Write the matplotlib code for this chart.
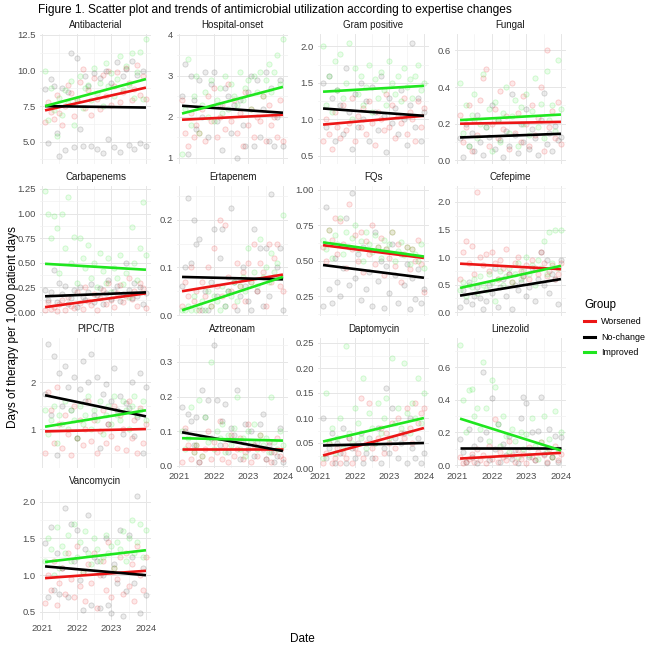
import numpy as np
import matplotlib
matplotlib.use("Agg")
import matplotlib.pyplot as plt
from matplotlib.lines import Line2D
from matplotlib.colors import to_rgba

plt.rcParams['font.family'] = ['Liberation Sans', 'DejaVu Sans']

# monthly observations, 2021-01 .. 2023-12 (plotted at month end)
months = 2021 + np.arange(1, 37) / 12

groups = ['Worsened', 'No-change', 'Improved']
group_colors = ['#ec1616', '#000000', '#1fe61f']

panels = ['Antibacterial', 'Hospital-onset', 'Gram positive', 'Fungal',
          'Carbapenems', 'Ertapenem', 'FQs', 'Cefepime',
          'PIPC/TB', 'Aztreonam', 'Daptomycin', 'Linezolid',
          'Vancomycin']

# scatter values per panel: [Worsened, No-change, Improved]
antibacterial = [
    [6.4, 7.8, 7.1, 6.6, 8.3, 7.0, 6.2, 7.5, 9.0, 8.4, 6.8, 7.9, 9.2, 10.1, 7.4, 8.6, 6.9, 9.5,
     8.0, 7.3, 9.7, 8.2, 10.0, 7.6, 8.9, 9.9, 7.8, 8.5, 10.2, 9.1, 7.9, 8.7, 10.4, 8.3, 9.6, 8.0],
    [8.7, 4.9, 9.4, 8.9, 5.6, 4.0, 8.8, 4.4, 8.5, 11.2, 4.6, 10.9, 5.9, 4.7, 9.6, 8.9, 4.7, 9.8,
     4.5, 9.5, 4.2, 10.0, 5.2, 9.1, 4.6, 10.6, 4.3, 9.6, 10.1, 4.8, 10.7, 4.5, 9.7, 4.9, 10.0, 4.7],
    [10.0, 6.5, 8.8, 7.2, 5.4, 8.1, 6.9, 8.6, 7.7, 9.3, 6.2, 8.0, 9.6, 7.4, 8.8, 9.0, 7.9, 10.2,
     8.4, 9.1, 7.5, 10.5, 8.9, 9.8, 8.2, 9.4, 11.0, 8.6, 10.3, 9.0, 11.2, 8.1, 9.9, 11.3, 8.0, 12.2],
]
hospital_onset = [
    [2.4, 1.6, 1.3, 2.1, 1.5, 1.8, 1.6, 2.2, 1.4, 2.5, 1.9, 2.7, 1.5, 2.0, 2.3, 1.7, 2.8, 1.9,
     2.4, 1.6, 2.1, 1.3, 2.6, 1.8, 2.2, 1.5, 2.0, 1.9, 2.5, 1.4, 2.3, 1.8, 2.0, 1.5, 2.4, 1.4],
    [2.5, 3.3, 1.1, 3.0, 2.4, 1.7, 2.9, 2.0, 3.1, 1.5, 2.8, 3.1, 1.9, 2.3, 1.2, 2.7, 2.5, 1.6,
     2.3, 1.0, 2.4, 1.8, 1.3, 2.6, 3.0, 1.3, 2.9, 1.5, 2.2, 3.1, 1.4, 2.7, 1.3, 2.0, 2.9, 1.3],
    [1.1, 2.2, 3.4, 1.8, 2.5, 3.0, 1.6, 2.3, 2.6, 2.0, 2.9, 1.9, 2.4, 2.7, 2.1, 3.0, 2.2, 2.8,
     2.5, 2.3, 3.1, 2.4, 2.7, 2.9, 2.2, 3.0, 2.6, 3.1, 2.5, 2.9, 3.3, 2.6, 3.1, 3.5, 2.8, 3.9],
]
gram_positive = [
    [0.7, 1.0, 0.8, 0.6, 1.1, 0.9, 0.75, 1.2, 0.85, 0.95, 1.3, 0.7, 1.05, 0.9, 1.15, 0.8, 1.25, 0.95,
     0.65, 1.1, 1.0, 0.85, 1.35, 0.9, 1.2, 0.75, 1.05, 0.95, 1.3, 0.8, 1.1, 1.0, 0.7, 1.25, 0.9, 1.15],
    [1.5, 0.9, 1.6, 1.3, 0.7, 1.4, 1.2, 0.8, 1.7, 1.1, 0.6, 1.35, 0.9, 1.5, 1.0, 1.25, 0.7, 1.45,
     1.1, 0.85, 1.6, 1.05, 0.55, 1.3, 0.95, 1.15, 0.8, 1.4, 1.0, 0.65, 1.2, 2.05, 0.9, 1.3, 0.7, 1.1],
    [2.0, 1.2, 1.6, 1.1, 1.8, 1.4, 1.9, 1.3, 1.5, 2.05, 1.0, 1.7, 1.35, 1.6, 1.2, 1.45, 1.75, 1.1,
     1.55, 1.3, 1.65, 1.4, 1.2, 1.8, 1.5, 1.35, 1.6, 1.25, 1.7, 1.45, 1.55, 1.3, 1.6, 1.75, 1.4, 1.5],
]
fungal = [
    [0.25, 0.1, 0.18, 0.3, 0.05, 0.22, 0.14, 0.33, 0.45, 0.5, 0.08, 0.2, 0.28, 0.12, 0.38, 0.17, 0.24, 0.06,
     0.42, 0.15, 0.26, 0.1, 0.35, 0.2, 0.08, 0.3, 0.14, 0.23, 0.4, 0.05, 0.6, 0.18, 0.27, 0.12, 0.32, 0.09],
    [0.12, 0.02, 0.2, 0.08, 0.15, 0.05, 0.25, 0.1, 0.03, 0.18, 0.13, 0.3, 0.06, 0.22, 0.11, 0.02, 0.16, 0.08,
     0.36, 0.14, 0.04, 0.2, 0.1, 0.28, 0.06, 0.17, 0.12, 0.03, 0.22, 0.37, 0.09, 0.15, 0.05, 0.19, 0.11, 0.13],
    [0.42, 0.15, 0.3, 0.08, 0.25, 0.36, 0.12, 0.2, 0.47, 0.18, 0.28, 0.05, 0.32, 0.22, 0.1, 0.26, 0.4, 0.15,
     0.24, 0.33, 0.08, 0.29, 0.2, 0.36, 0.14, 0.27, 0.45, 0.18, 0.31, 0.12, 0.49, 0.22, 0.3, 0.16, 0.55, 0.28],
]
carbapenems = [
    [0.02, 0.1, 0.03, 0.05, 0.01, 0.08, 0.12, 0.02, 0.15, 0.06, 0.04, 0.2, 0.09, 0.03, 0.25, 0.11, 0.07, 0.18,
     0.02, 0.14, 0.22, 0.08, 0.3, 0.12, 0.05, 0.19, 0.27, 0.1, 0.16, 0.35, 0.13, 0.21, 0.06, 0.29, 0.24, 0.04],
    [0.22, 0.12, 0.2, 0.43, 0.1, 0.3, 0.18, 0.26, 0.08, 0.14, 0.22, 0.05, 0.25, 0.15, 0.12, 0.2, 0.28, 0.1,
     0.17, 0.24, 0.08, 0.19, 0.33, 0.13, 0.21, 0.26, 0.11, 0.18, 0.5, 0.22, 0.14, 0.3, 0.16, 0.25, 0.08, 0.19],
    [1.23, 1.0, 0.75, 0.98, 0.85, 0.4, 1.0, 0.65, 1.17, 0.5, 0.76, 0.3, 0.75, 0.55, 0.45, 0.68, 0.35, 0.5,
     0.25, 0.6, 0.42, 0.3, 0.55, 0.2, 0.45, 0.35, 0.58, 0.28, 0.4, 0.15, 0.86, 0.5, 0.33, 0.65, 1.12, 0.58],
]
ertapenem = [
    [0.02, 0.07, 0.04, 0.1, 0.03, 0.05, 0.01, 0.07, 0.04, 0.1, 0.02, 0.14, 0.06, 0.2, 0.04, 0.19, 0.08, 0.05,
     0.02, 0.11, 0.06, 0.09, 0.03, 0.11, 0.07, 0.15, 0.05, 0.11, 0.09, 0.02, 0.15, 0.07, 0.12, 0.15, 0.06, 0.05],
    [0.06, 0.1, 0.245, 0.11, 0.2, 0.15, 0.16, 0.01, 0.05, 0.01, 0.07, 0.18, 0.04, 0.12, 0.18, 0.02, 0.05, 0.225,
     0.07, 0.01, 0.04, 0.1, 0.06, 0.03, 0.01, 0.18, 0.05, 0.14, 0.02, 0.14, 0.04, 0.255, 0.08, 0.1, 0.14, 0.01],
    [0.01, 0.01, 0.02, 0.01, 0.04, 0.01, 0.02, 0.03, 0.01, 0.05, 0.02, 0.04, 0.03, 0.01, 0.06, 0.02, 0.05, 0.04,
     0.07, 0.03, 0.06, 0.08, 0.05, 0.14, 0.07, 0.09, 0.06, 0.16, 0.08, 0.1, 0.07, 0.13, 0.09, 0.11, 0.08, 0.21],
]
fqs = [
    [0.6, 0.5, 0.72, 0.65, 0.8, 0.55, 0.78, 0.62, 0.45, 0.9, 0.58, 0.68, 0.5, 0.7, 0.42, 0.64, 0.55, 0.75,
     0.48, 0.6, 0.66, 0.4, 0.58, 0.52, 0.7, 0.46, 0.62, 0.35, 0.55, 0.6, 0.44, 0.58, 0.5, 0.65, 0.48, 0.28],
    [0.18, 0.88, 0.3, 0.2, 0.52, 0.35, 0.25, 0.45, 0.8, 0.33, 0.98, 0.38, 0.55, 0.22, 0.6, 0.3, 0.42, 0.18,
     0.7, 0.36, 0.5, 0.17, 0.46, 0.27, 0.62, 0.4, 0.2, 0.55, 0.33, 0.48, 0.16, 0.38, 0.23, 0.44, 0.2, 0.3],
    [0.65, 0.58, 0.72, 0.52, 0.68, 0.62, 0.8, 0.55, 0.7, 0.6, 0.66, 0.75, 0.58, 0.64, 0.5, 0.7, 0.62, 0.56,
     0.68, 0.6, 0.52, 0.65, 0.58, 0.62, 0.7, 0.5, 0.57, 0.63, 0.54, 0.6, 0.48, 0.58, 0.55, 0.5, 0.62, 0.45],
]
cefepime = [
    [0.6, 1.1, 1.3, 0.9, 1.2, 0.7, 2.18, 1.0, 0.85, 1.05, 0.75, 1.1, 0.9, 0.6, 0.95, 0.8, 1.15, 0.7,
     0.55, 0.9, 1.0, 0.75, 0.65, 0.85, 0.6, 0.95, 0.8, 0.7, 1.1, 0.9, 0.65, 0.75, 0.85, 0.6, 0.7, 0.9],
    [0.1, 0.4, 0.2, 0.55, 0.15, 0.3, 0.45, 0.25, 0.05, 0.2, 0.5, 0.35, 0.8, 0.1, 0.45, 0.6, 0.3, 0.7,
     0.05, 0.5, 0.4, 0.55, 0.65, 0.3, 0.45, 0.8, 0.2, 0.6, 1.1, 0.5, 0.95, 0.35, 0.7, 0.6, 0.15, 0.95],
    [0.4, 0.55, 0.3, 0.5, 0.45, 0.6, 0.35, 0.65, 0.5, 0.4, 0.7, 0.55, 0.2, 0.6, 0.75, 0.5, 0.65, 0.8,
     0.55, 0.7, 0.9, 0.6, 0.75, 1.0, 0.7, 0.85, 0.5, 0.95, 0.8, 1.3, 0.7, 1.45, 0.9, 1.5, 0.8, 1.5],
]
pipc_tb = [
    [0.5, 1.8, 1.4, 0.7, 1.9, 1.1, 0.6, 1.3, 0.9, 0.45, 1.5, 0.8, 1.2, 0.65, 1.0, 1.6, 0.75, 1.2,
     0.5, 0.95, 1.4, 0.7, 1.1, 0.85, 1.5, 0.6, 1.3, 1.0, 0.55, 1.6, 0.8, 1.2, 0.5, 1.45, 0.7, 1.1],
    [1.75, 2.82, 1.3, 2.55, 0.45, 2.2, 1.5, 2.35, 1.9, 1.4, 2.1, 0.8, 1.85, 2.45, 1.6, 2.0, 2.6, 1.3,
     2.1, 0.6, 1.75, 1.95, 1.1, 1.6, 2.3, 1.4, 1.7, 0.9, 1.55, 1.45, 2.0, 0.85, 1.25, 2.2, 0.5, 1.9],
    [1.4, 0.9, 1.2, 1.5, 0.7, 1.3, 1.1, 1.6, 1.0, 1.4, 1.2, 0.8, 1.5, 1.1, 1.3, 1.7, 1.0, 1.4,
     1.2, 1.6, 0.9, 1.3, 1.5, 1.1, 1.7, 1.3, 1.2, 1.6, 1.4, 1.0, 1.5, 1.7, 1.3, 1.4, 1.6, 1.2],
]
aztreonam = [
    [0.01, 0.11, 0.06, 0.02, 0.04, 0.06, 0.01, 0.03, 0.05, 0.1, 0.02, 0.07, 0.04, 0.13, 0.02, 0.06, 0.01, 0.09,
     0.03, 0.05, 0.08, 0.02, 0.04, 0.12, 0.01, 0.06, 0.03, 0.09, 0.05, 0.02, 0.07, 0.01, 0.04, 0.08, 0.03, 0.02],
    [0.17, 0.1, 0.15, 0.13, 0.06, 0.14, 0.01, 0.22, 0.14, 0.19, 0.08, 0.35, 0.19, 0.06, 0.13, 0.18, 0.04, 0.11,
     0.09, 0.22, 0.02, 0.07, 0.12, 0.05, 0.1, 0.03, 0.07, 0.12, 0.15, 0.02, 0.06, 0.04, 0.01, 0.03, 0.11, 0.01],
    [0.1, 0.05, 0.08, 0.17, 0.04, 0.06, 0.19, 0.03, 0.14, 0.07, 0.3, 0.05, 0.1, 0.08, 0.12, 0.04, 0.09, 0.06,
     0.11, 0.2, 0.05, 0.08, 0.03, 0.1, 0.07, 0.12, 0.05, 0.09, 0.06, 0.08, 0.04, 0.2, 0.07, 0.05, 0.1, 0.06],
]
daptomycin = [
    [0.01, 0.03, 0.05, 0.01, 0.02, 0.04, 0.01, 0.03, 0.02, 0.06, 0.01, 0.04, 0.03, 0.14, 0.02, 0.05, 0.13, 0.04,
     0.02, 0.06, 0.08, 0.03, 0.07, 0.05, 0.09, 0.04, 0.1, 0.07, 0.06, 0.12, 0.08, 0.05, 0.13, 0.09, 0.11, 0.12],
    [0.1, 0.02, 0.04, 0.07, 0.01, 0.05, 0.03, 0.08, 0.01, 0.06, 0.04, 0.02, 0.05, 0.07, 0.01, 0.03, 0.06, 0.02,
     0.05, 0.08, 0.01, 0.04, 0.16, 0.03, 0.12, 0.06, 0.02, 0.05, 0.07, 0.01, 0.1, 0.04, 0.02, 0.06, 0.01, 0.03],
    [0.02, 0.15, 0.05, 0.08, 0.03, 0.06, 0.1, 0.04, 0.245, 0.07, 0.05, 0.12, 0.09, 0.06, 0.18, 0.04, 0.11, 0.08,
     0.05, 0.13, 0.07, 0.1, 0.14, 0.06, 0.22, 0.09, 0.12, 0.08, 0.21, 0.11, 0.07, 0.13, 0.1, 0.18, 0.09, 0.15],
]
linezolid = [
    [0.05, 0.01, 0.02, 0.04, 0.07, 0.02, 0.1, 0.03, 0.06, 0.01, 0.12, 0.04, 0.28, 0.02, 0.08, 0.05, 0.03, 0.15,
     0.06, 0.02, 0.09, 0.04, 0.07, 0.01, 0.11, 0.05, 0.03, 0.08, 0.14, 0.06, 0.02, 0.1, 0.05, 0.12, 0.03, 0.07],
    [0.16, 0.08, 0.02, 0.22, 0.05, 0.12, 0.01, 0.16, 0.57, 0.2, 0.03, 0.41, 0.1, 0.25, 0.02, 0.13, 0.06, 0.18,
     0.04, 0.09, 0.01, 0.29, 0.42, 0.38, 0.05, 0.2, 0.03, 0.21, 0.42, 0.07, 0.01, 0.22, 0.05, 0.18, 0.02, 0.17],
    [0.74, 0.4, 0.2, 0.46, 0.47, 0.3, 0.35, 0.22, 0.63, 0.35, 0.15, 0.52, 0.48, 0.25, 0.12, 0.3, 0.18, 0.08,
     0.22, 0.15, 0.05, 0.2, 0.1, 0.19, 0.06, 0.29, 0.12, 0.04, 0.14, 0.3, 0.08, 0.16, 0.05, 0.33, 0.1, 0.2],
]
vancomycin = [
    [0.62, 1.0, 0.8, 1.2, 0.6, 0.9, 1.1, 0.75, 1.3, 0.95, 0.7, 1.4, 0.85, 1.05, 0.65, 1.15, 0.9, 1.3,
     0.55, 1.0, 1.2, 0.8, 1.45, 0.7, 1.1, 0.95, 1.25, 0.75, 1.3, 0.85, 1.15, 0.65, 1.4, 1.0, 0.8, 1.25],
    [1.44, 0.7, 1.65, 0.8, 1.3, 0.75, 1.1, 1.92, 0.7, 1.7, 1.2, 1.62, 0.93, 0.52, 1.35, 1.82, 0.6, 1.25,
     1.2, 0.55, 1.0, 1.5, 0.6, 0.48, 1.15, 0.9, 1.62, 0.45, 0.78, 1.55, 1.25, 0.9, 2.08, 0.48, 1.1, 0.73],
    [1.2, 1.5, 1.35, 1.0, 1.65, 1.1, 1.4, 1.3, 1.55, 1.2, 1.7, 1.25, 1.45, 1.05, 1.6, 1.3, 1.15, 1.5,
     1.35, 1.2, 1.25, 1.55, 1.3, 1.4, 1.1, 1.45, 1.35, 1.6, 1.2, 1.5, 1.75, 1.3, 1.45, 1.7, 1.25, 1.62],
]
scatter_data = [antibacterial, hospital_onset, gram_positive, fungal,
                carbapenems, ertapenem, fqs, cefepime,
                pipc_tb, aztreonam, daptomycin, linezolid, vancomycin]

# linear trend per group: (fitted value at first month, fitted value at last month)
trends = [
    [(7.2, 8.8), (7.5, 7.4), (7.5, 9.4)],
    [(1.93, 2.05), (2.27, 2.10), (2.08, 2.73)],
    [(0.93, 1.05), (1.15, 1.05), (1.38, 1.46)],
    [(0.20, 0.21), (0.125, 0.145), (0.22, 0.25)],
    [(0.05, 0.19), (0.16, 0.20), (0.49, 0.43)],
    [(0.05, 0.085), (0.08, 0.075), (0.01, 0.08)],
    [(0.61, 0.52), (0.47, 0.38), (0.63, 0.53)],
    [(0.88, 0.78), (0.30, 0.60), (0.44, 0.84)],
    [(0.95, 1.00), (1.72, 1.27), (1.05, 1.40)],
    [(0.048, 0.048), (0.097, 0.043), (0.08, 0.073)],
    [(0.025, 0.08), (0.045, 0.05), (0.053, 0.10)],
    [(0.04, 0.075), (0.105, 0.105), (0.285, 0.09)],
    [(0.96, 1.06), (1.12, 1.00), (1.18, 1.34)],
]

y_limits = [(3.43, 12.57), (0.85, 4.02), (0.39, 2.17), (-0.02, 0.69),
            (-0.04, 1.28), (-0.002, 0.271), (0.11, 1.028), (-0.07, 2.29),
            (0.17, 2.94), (-0.006, 0.369), (0.0, 0.26), (-0.018, 0.78),
            (0.39, 2.16)]
y_ticks = [[5, 7.5, 10, 12.5], [1, 2, 3, 4], [0.5, 1.0, 1.5, 2.0], [0, 0.2, 0.4, 0.6],
           [0, 0.25, 0.5, 0.75, 1.0, 1.25], [0, 0.1, 0.2], [0.25, 0.5, 0.75, 1.0],
           [0, 0.5, 1.0, 1.5, 2.0], [1, 2], [0, 0.1, 0.2, 0.3],
           [0, 0.05, 0.1, 0.15, 0.2, 0.25], [0, 0.2, 0.4, 0.6], [0.5, 1.0, 1.5, 2.0]]
y_decimals = [1, 0, 1, 1, 2, 1, 2, 1, 0, 1, 2, 1, 1]
x_ticks = [2021, 2022, 2023, 2024]

W, H = 650, 648
fig = plt.figure(figsize=(W / 100, H / 100), dpi=100)

col_left = [40, 177, 318, 455]
row_top = [34, 186, 338, 490]
pw, ph = 111, 130
bottom_row = {0: 3, 1: 2, 2: 2, 3: 2}

for i, name in enumerate(panels):
    r, c = divmod(i, 4)
    ax = fig.add_axes([col_left[c] / W, 1 - (row_top[r] + ph) / H, pw / W, ph / H])
    for g in range(3):
        base = group_colors[g] if g != 1 else '#333333'
        ax.scatter(months, scatter_data[i][g], s=14,
                   facecolor=to_rgba(base, 0.09), edgecolor=to_rgba(base, 0.2),
                   linewidths=0.6, zorder=2)
    for g in range(3):
        ax.plot([months[0], months[-1]], trends[i][g], color=group_colors[g], lw=1.9,
                solid_capstyle='butt', zorder=3)

    yt = y_ticks[i]
    ax.set_yticks(yt)
    ax.set_yticklabels([f"{v:.{y_decimals[i]}f}" for v in yt])
    step = yt[1] - yt[0]
    ax.set_yticks([yt[0] - step / 2] + [v + step / 2 for v in yt], minor=True)
    ax.set_xticks(x_ticks)
    ax.set_xticks([2020.5, 2021.5, 2022.5, 2023.5, 2024.5], minor=True)
    ax.set_ylim(*y_limits[i])
    ax.set_xlim(months[0] - 0.146, months[-1] + 0.146)
    if bottom_row[c] == r:
        ax.set_xticklabels([str(v) for v in x_ticks])
    else:
        ax.set_xticklabels([])

    ax.grid(which='major', color='#e6e6e6', lw=0.7, zorder=0)
    ax.grid(which='minor', color='#f2f2f2', lw=0.5, zorder=0)
    ax.set_axisbelow(True)
    for s in ax.spines.values():
        s.set_visible(False)
    ax.tick_params(which='both', length=0, labelsize=6.8, labelcolor='#4d4d4d', pad=3)
    ax.set_title(name, fontsize=7, color='#1a1a1a', pad=4)

fig.text(38 / W, 1 - 10 / H, 'Figure 1. Scatter plot and trends of antimicrobial utilization '
         'according to expertise changes', fontsize=8.6, ha='left', va='center')
fig.text(13 / W, 1 - 327 / H, 'Days of therapy per 1,000 patient days', rotation=90,
         fontsize=8.5, ha='center', va='center')
fig.text(302 / W, 1 - 639 / H, 'Date', fontsize=8.5, ha='center', va='center')

handles = [Line2D([], [], color=col, lw=2.2) for col in group_colors]
leg = fig.legend(handles, groups, title='Group', loc='upper left',
                 bbox_to_anchor=(578 / W, 1 - 293 / H), frameon=False,
                 fontsize=6.4, title_fontsize=8.3, handlelength=1.2,
                 labelspacing=0.7, handletextpad=0.7, alignment='left',
                 borderaxespad=0.3)

fig.savefig('out.png', dpi=100)
